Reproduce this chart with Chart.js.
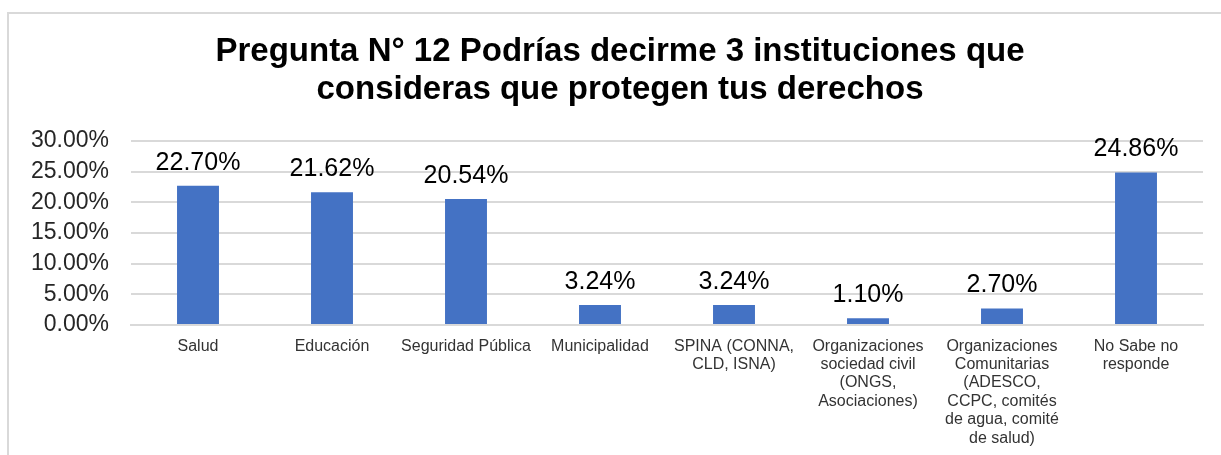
<!DOCTYPE html>
<html>
<head>
<meta charset="utf-8">
<script src="https://cdn.jsdelivr.net/npm/chart.js@4.4.1/dist/chart.umd.min.js"></script>
<style>
  html, body { margin: 0; padding: 0; background: #ffffff; }
  #wrap { position: relative; width: 1221px; height: 455px; overflow: hidden; }
  #frame { position: absolute; left: 7px; top: 12px; width: 1400px; height: 700px;
           border-left: 2px solid #d9d9d9; border-top: 2px solid #d9d9d9; }
  canvas { position: absolute; left: 0; top: 0; }
</style>
</head>
<body>
<div id="wrap">
  <div id="frame"></div>
  <canvas id="c" width="1221" height="455"></canvas>
</div>
<script>
const titleLines = ["Pregunta N° 12 Podrías decirme 3 instituciones que", "consideras que protegen tus derechos"];
const categories = [
  "Salud",
  "Educación",
  "Seguridad Pública",
  "Municipalidad",
  ["SPINA (CONNA,", "CLD, ISNA)"],
  ["Organizaciones", "sociedad civil", "(ONGS,", "Asociaciones)"],
  ["Organizaciones", "Comunitarias", "(ADESCO,", "CCPC, comités", "de agua, comité", "de salud)"],
  ["No Sabe no", "responde"]
];
const values = [22.70, 21.62, 20.54, 3.24, 3.24, 1.10, 2.70, 24.86];
const yMin = 0, yMax = 30, yStep = 5;

const FONT = "'Liberation Sans', Arial, sans-serif";

const dataLabels = {
  id: 'dataLabels',
  afterDatasetsDraw(chart) {
    const ctx = chart.ctx;
    const meta = chart.getDatasetMeta(0);
    ctx.save();
    ctx.font = "25px " + FONT;
    ctx.fillStyle = "#000000";
    ctx.textAlign = "center";
    ctx.textBaseline = "alphabetic";
    meta.data.forEach((bar, i) => {
      ctx.fillText(values[i].toFixed(2) + "%", bar.x, bar.y - 16);
    });
    ctx.restore();
  }
};

new Chart(document.getElementById('c'), {
  type: 'bar',
  data: {
    labels: categories,
    datasets: [{
      data: values,
      backgroundColor: '#4472C4',
      borderWidth: 0,
      barPercentage: 0.313,
      categoryPercentage: 1.0
    }]
  },
  options: {
    responsive: false,
    animation: false,
    layout: { padding: { left: 19, right: 0, top: 0, bottom: 0 } },
    plugins: {
      legend: { display: false },
      tooltip: { enabled: false },
      title: {
        display: true,
        text: titleLines,
        color: '#000000',
        font: { family: FONT, size: 33, weight: 'bold', lineHeight: 1.15 },
        padding: { top: 33, bottom: 32 }
      }
    },
    scales: {
      x: {
        grid: { display: false, drawTicks: false },
        border: { display: true, color: '#d9d9d9', width: 2 },
        ticks: {
          color: '#333333',
          font: { family: FONT, size: 16, lineHeight: 1.15 },
          maxRotation: 0, minRotation: 0, autoSkip: false,
          padding: 12
        },
        afterFit(scale) { scale.height = 130; }
      },
      y: {
        min: yMin, max: yMax,
        grid: { color: '#d9d9d9', lineWidth: 2, drawTicks: false },
        border: { display: false },
        ticks: {
          stepSize: yStep,
          color: '#262626',
          font: { family: FONT, size: 23 },
          padding: 22,
          callback: (v) => v.toFixed(2) + '%'
        },
        afterFit(scale) { scale.width = 112; }
      },
      yRightSpacer: {
        position: 'right',
        min: yMin, max: yMax,
        grid: { display: false, drawTicks: false },
        border: { display: false },
        ticks: { display: false },
        afterFit(scale) { scale.width = 18; }
      }
    }
  },
  plugins: [dataLabels]
});
</script>
</body>
</html>
